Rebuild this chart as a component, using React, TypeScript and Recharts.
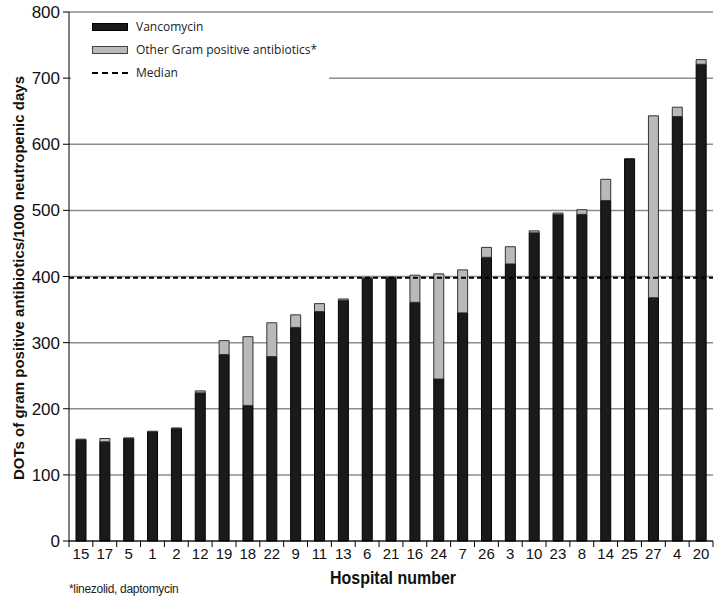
import React from 'react'
import {
  BarChart, Bar, XAxis, YAxis, CartesianGrid, ReferenceLine, Label
} from 'recharts'

const hospitals = ['15', '17', '5', '1', '2', '12', '19', '18', '22', '9', '11', '13', '6', '21', '16', '24', '7', '26', '3', '10', '23', '8', '14', '25', '27', '4', '20']
const vancomycin = [153, 150, 155, 165, 170, 224, 282, 205, 279, 323, 347, 364, 397, 398, 361, 245, 345, 429, 419, 466, 494, 494, 515, 578, 368, 642, 721]
const otherGramPos = [1, 5, 1, 1, 1, 3, 21, 104, 51, 19, 12, 2, 1, 1, 41, 159, 65, 15, 26, 3, 2, 7, 32, 0, 275, 14, 7]
const median = 398
const yTicks = [0, 100, 200, 300, 400, 500, 600, 700, 800]

const data = hospitals.map((h, i) => ({
  hospital: h,
  vanc: vancomycin[i],
  other: otherGramPos[i],
}))

const W = 715
const H = 602
const X_H = 30
const M = { top: 12, right: 2, bottom: 61 - X_H, left: 0 }
const Y_W = 69
const PLOT_W = W - M.left - M.right - Y_W
const BAND = PLOT_W / hospitals.length

const font = "'Liberation Sans', Arial, sans-serif"
const legendFont = "'Open Sans', 'Noto Sans', sans-serif"

function HospitalTick(props: any) {
  const { x, y, payload, index } = props
  const last = index === hospitals.length - 1
  return (
    <g>
      <line x1={x - BAND / 2} y1={y - 8} x2={x - BAND / 2} y2={y - 2} stroke="#000" />
      {last && <line x1={x + BAND / 2} y1={y - 8} x2={x + BAND / 2} y2={y - 2} stroke="#000" />}
      <text x={x} y={y} dy={10} textAnchor="middle" fontSize={15} fontFamily={font} fill="#111">
        {payload.value}
      </text>
    </g>
  )
}

// legend sits on top of the plot with a white box, hiding the 700 gridline under it
function LegendBox() {
  const row = (swatch: React.ReactNode, label: string) => (
    <div style={{ display: 'flex', alignItems: 'center', height: 23, whiteSpace: 'nowrap' }}>
      <div style={{ width: 36, marginRight: 8, display: 'flex', alignItems: 'center' }}>{swatch}</div>
      <span>{label}</span>
    </div>
  )
  return (
    <div style={{ position: 'absolute', left: 71, top: 15, width: 258, height: 72, background: '#fff', padding: '0 0 0 21px', boxSizing: 'border-box', fontFamily: legendFont, fontSize: 12, color: '#222' }}>
      {row(<div style={{ width: 34, height: 6, background: '#1a1a1a', border: '1px solid #000' }} />, 'Vancomycin')}
      {row(<div style={{ width: 34, height: 6, background: '#b9b9b9', border: '1px solid #444' }} />, 'Other Gram positive antibiotics*')}
      {row(<div style={{ width: 36, borderTop: '2px dashed #000' }} />, 'Median')}
    </div>
  )
}

export default function App() {
  return (
    <div style={{ position: 'relative', width: W, height: H, background: '#fff' }}>
      <style>{'body{margin:0}'}</style>
      <BarChart width={W} height={H} data={data} margin={M} barSize={10}>
        <CartesianGrid vertical={false} stroke="#8c8c8c" strokeWidth={1.5} />
        <XAxis
          dataKey="hospital"
          height={X_H}
          interval={0}
          tickLine={false}
          axisLine={{ stroke: '#000' }}
          tick={<HospitalTick />}
        >
          <Label
            content={() => (
              <text x={393} y={584} textAnchor="middle" fontSize={18} fontWeight="bold" fontFamily={font} fill="#111" textLength={126} lengthAdjust="spacingAndGlyphs">
                Hospital number
              </text>
            )}
          />
        </XAxis>
        <YAxis
          width={Y_W}
          domain={[0, 800]}
          ticks={yTicks}
          interval={0}
          tickSize={6}
          tickMargin={3}
          axisLine={{ stroke: '#000' }}
          tickLine={{ stroke: '#000' }}
          tick={{ fontSize: 17, fontFamily: font, fill: '#111' }}
        >
          <Label
            content={() => (
              <text x={18} y={278} transform="rotate(-90 18 278)" textAnchor="middle" dominantBaseline="central" fontSize={15} fontWeight="bold" fontFamily={font} fill="#111">
                DOTs of gram positive antibiotics/1000 neutropenic days
              </text>
            )}
          />
        </YAxis>
        <Bar dataKey="vanc" stackId="a" fill="#1a1a1a" stroke="#000" strokeWidth={1} isAnimationActive={false} />
        <Bar dataKey="other" stackId="a" fill="#b9b9b9" stroke="#333" strokeWidth={1} isAnimationActive={false} />
        <ReferenceLine y={median} stroke="#000" strokeWidth={2} strokeDasharray="5 3" />
      </BarChart>
      <LegendBox />
      <div style={{ position: 'absolute', left: 69, top: 582, fontFamily: font, fontSize: 12, color: '#222', letterSpacing: -0.3 }}>
        *linezolid, daptomycin
      </div>
    </div>
  )
}
